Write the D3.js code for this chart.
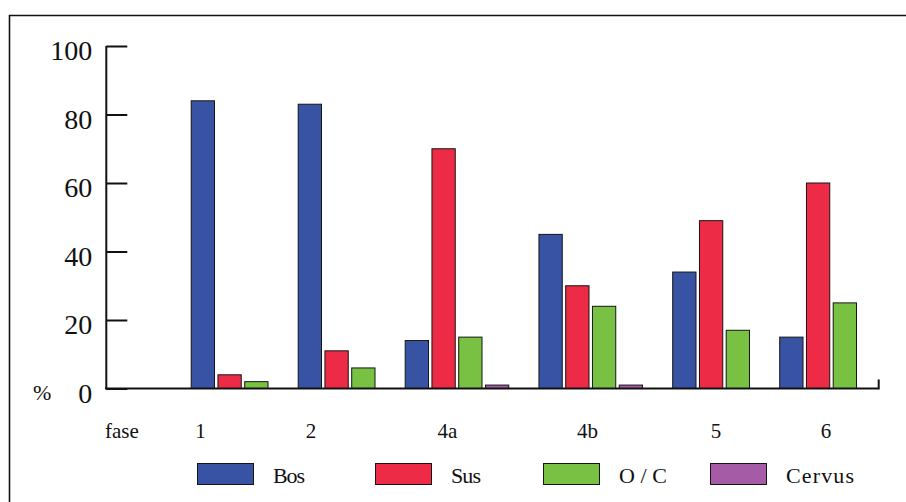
<!DOCTYPE html>
<html>
<head>
<meta charset="utf-8">
<script src="https://cdn.jsdelivr.net/npm/d3@7"></script>
<style>
  html, body { margin: 0; padding: 0; background: #fff; }
  svg { display: block; }
  text { font-family: "Liberation Serif", "DejaVu Serif", serif; fill: #111; }
</style>
</head>
<body>
<svg id="chart" width="906" height="502"></svg>
<script>
// ---- data ----
const categories = ["1", "2", "4a", "4b", "5", "6"];
const seriesNames = ["Bos", "Sus", "O/C", "Cervus"];
const bos    = [84, 83, 14, 45, 34, 15];
const sus    = [4, 11, 70, 30, 49, 60];
const oc     = [2, 6, 15, 24, 17, 25];
const cervus = [0, 0, 1, 1, 0, 0];
const yTicks = [0, 20, 40, 60, 80, 100];
const axisTitle = "fase";
const unitLabel = "%";

// ---- layout (not data) ----
const colors = ["#3953a4", "#ee2b46", "#79c143", "#a65ba6"];
const groupSlot = [0, 4, 8, 13, 18, 22];           // slot offset of each group
const labelSlot = [0.37, 4.5, 9.6, 14.83, 19.64, 23.75]; // category label centres in slot units
const legendX = [197, 375, 543, 710];
const legendTextLen = [32, 30, 48, 68];

const series = [bos, sus, oc, cervus];
const svg = d3.select("#chart");

// frame
svg.append("path")
  .attr("d", "M9.5,520 L9.5,15.5 L920,15.5")
  .attr("fill", "none").attr("stroke", "#111").attr("stroke-width", 1.6);

const x = d3.scaleLinear().domain([0, 1]).range([190.7, 190.7 + 26.75]);
const barW = 24.3;
const y = d3.scaleLinear().domain([0, 100]).range([388.5, 46]);

// bars
const bars = [];
categories.forEach((c, i) => {
  series.forEach((s, j) => {
    if (s[i] > 0) bars.push({ c, i, j, v: s[i] });
  });
});
svg.append("g").selectAll("rect").data(bars).join("rect")
  .attr("x", d => x(groupSlot[d.i] + d.j) + 0.5)
  .attr("width", barW - 1)
  .attr("y", d => y(d.v))
  .attr("height", d => y(0) - y(d.v))
  .attr("fill", d => colors[d.j])
  .attr("stroke", "#151515").attr("stroke-width", 1);

// baseline
const xLeft = 105, xRight = 878.7;
svg.append("path")
  .attr("d", `M${xLeft},${y(0)} L${xRight},${y(0)} L${xRight},${y(0) - 9}`)
  .attr("fill", "none").attr("stroke", "#111").attr("stroke-width", 2);

// y axis
const yAxis = d3.axisLeft(y).tickValues(yTicks).tickSize(-21).tickPadding(14).tickFormat(d3.format("d"));
const gy = svg.append("g").attr("transform", "translate(106.3,0)").call(yAxis);
gy.select(".domain").attr("stroke", "#111").attr("stroke-width", 2).attr("d", `M0,${y(100)}V${y(0)}`);
gy.selectAll(".tick line").attr("stroke", "#111").attr("stroke-width", 2);
gy.selectAll(".tick text")
  .attr("font-family", "Liberation Serif, serif").attr("font-size", 28)
  .attr("fill", "#111").attr("dy", null).attr("y", 13.5);

// unit label
svg.append("text").attr("x", 33).attr("y", 400).attr("font-size", 22).text(unitLabel);

// category labels
svg.append("text").attr("x", 105).attr("y", 437.5).attr("font-size", 21).text(axisTitle);
svg.append("g").selectAll("text").data(categories).join("text")
  .attr("x", (d, i) => x(labelSlot[i]))
  .attr("y", 437.5)
  .attr("text-anchor", "middle")
  .attr("font-size", 21)
  .text(d => d);

// legend
const lg = svg.append("g").selectAll("g").data(seriesNames).join("g")
  .attr("transform", (d, i) => `translate(${legendX[i]},463)`);
lg.append("rect").attr("x", 0.5).attr("y", 0.5).attr("width", 56).attr("height", 21)
  .attr("fill", (d, i) => colors[i]).attr("stroke", "#151515").attr("stroke-width", 1);
lg.append("text").attr("x", 76).attr("y", 19.5).attr("font-size", 22)
  .attr("textLength", (d, i) => legendTextLen[i]).attr("lengthAdjust", "spacing")
  .text(d => d);
</script>
</body>
</html>
